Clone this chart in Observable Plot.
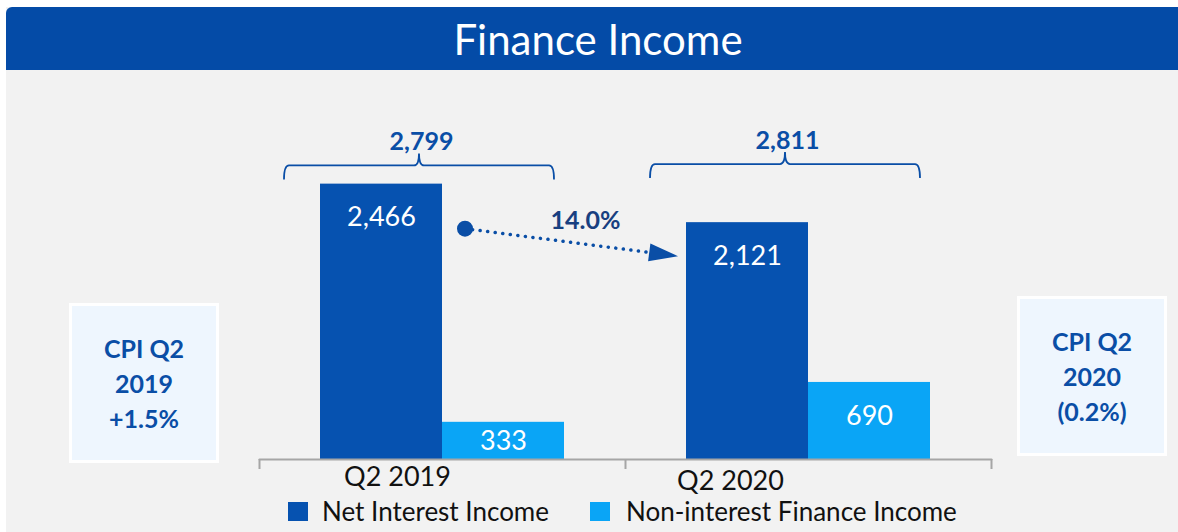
<!DOCTYPE html>
<html>
<head>
<meta charset="utf-8">
<script src="https://cdn.jsdelivr.net/npm/d3@7"></script>
<script src="https://cdn.jsdelivr.net/npm/@observablehq/plot@0.6"></script>
<style>
  html, body { margin: 0; padding: 0; background: #ffffff; width: 1178px; height: 532px; overflow: hidden; font-family: Lato, "Open Sans", sans-serif; }
  #panel { position: absolute; left: 6px; top: 7px; width: 1172px; height: 525px; background: #f2f2f2; }
  #title { position: absolute; left: 6px; top: 7px; width: 1160px; padding-left: 12px; height: 63px; background: #044ba7; border-top-left-radius: 6px; color: #ffffff; font-size: 42px; line-height: 64px; text-align: center; }
  #chart { position: absolute; left: 0; top: 70px; }
  .cpi { position: absolute; width: 144px; height: 154px; background: #eef6fe; border: 3px solid #ffffff; color: #0a4ea6; font-weight: 700; font-size: 25px; line-height: 35px; display: flex; align-items: center; justify-content: center; text-align: center; }
  .sw { position: absolute; width: 20px; height: 19px; }
  .lt { position: absolute; font-size: 26px; color: #111111; line-height: 30px; white-space: nowrap; }
</style>
</head>
<body>
<div id="panel"></div>
<div id="title"></div>
<div id="chart"></div>
<div id="cpi0" class="cpi" style="left:69px;top:303px;"></div>
<div id="cpi1" class="cpi" style="left:1017px;top:296px;"></div>
<div id="legend"></div>
<script>
// ---- data ----
const titleText = "Finance Income";
const periods = ["Q2 2019", "Q2 2020"];
const seriesNames = ["Net Interest Income", "Non-interest Finance Income"];
const netInterestIncome = [2466, 2121];
const nonInterestFinanceIncome = [333, 690];
const totals = [2799, 2811];
const cpiLabels = [["CPI Q2", "2019", "+1.5%"], ["CPI Q2", "2020", "(0.2%)"]];
const seriesColors = ["#0652b0", "#0aa5f6"];

// ---- derived tables ----
const fmt = d3.format(",");
const key = (p, s) => p + " | " + s;
const gaps = ["gap-start", "gap-middle", "gap-end"];
const xDomain = [
  gaps[0], key(periods[0], seriesNames[0]), key(periods[0], seriesNames[1]),
  gaps[1], key(periods[1], seriesNames[0]), key(periods[1], seriesNames[1]),
  gaps[2]
];
const rows = periods.flatMap((p, i) => [
  {period: p, series: seriesNames[0], value: netInterestIncome[i], key: key(p, seriesNames[0])},
  {period: p, series: seriesNames[1], value: nonInterestFinanceIncome[i], key: key(p, seriesNames[1])}
]);
const totalRows = periods.map((p, i) => ({period: p, total: totals[i], key: key(p, seriesNames[0])}));
const changeLabel = d3.format(".1%")((netInterestIncome[0] - netInterestIncome[1]) / netInterestIncome[0]);

document.getElementById("title").textContent = titleText;
cpiLabels.forEach((lines, i) => {
  document.getElementById("cpi" + i).innerHTML = "<div>" + lines.join("<br>") + "</div>";
});

const blue = "#0a4ea6";
const axisGray = "#a6a6a6";

const plot = Plot.plot({
  width: 1178,
  height: 425,
  marginLeft: 198,
  marginRight: 126,
  marginTop: 54,
  marginBottom: 36,
  x: {domain: xDomain, padding: 0, axis: null},
  y: {domain: [0, 3000], axis: null},
  color: {domain: seriesNames, range: seriesColors},
  style: {background: "transparent", fontFamily: "Lato, 'Open Sans', sans-serif", overflow: "visible"},
  marks: [
    Plot.barY(rows, {x: "key", y: "value", fill: "series"}),
    Plot.line([gaps[0], gaps[2]], {x: d => d, y: () => 0, stroke: axisGray, strokeWidth: 2}),
    Plot.ruleX(gaps, {x: d => d, y1: () => 0, y2: () => 0, insetBottom: -10, stroke: axisGray, strokeWidth: 2}),
    Plot.text(rows, {x: "key", y: d => Math.max(d.value - 300, d.value / 2), text: d => fmt(d.value), fill: "white", fontSize: 27}),
    Plot.text([totalRows[0]], {x: "key", y: () => 0, text: "period", dx: 16, dy: 18, fill: "#111111", fontSize: 27}),
    Plot.text([totalRows[1]], {x: "key", y: () => 0, text: "period", dx: -17, dy: 22, fill: "#111111", fontSize: 27}),
    Plot.text(totalRows, {x: "key", y: "total", text: d => fmt(d.total), dx: 40, dy: -5, fill: blue, fontWeight: "bold", fontSize: 25})
  ]
});
document.getElementById("chart").appendChild(plot);

// ---- annotations drawn from the plot's own scales ----
const xs = plot.scale("x"), ys = plot.scale("y");
const x = d3.scaleBand(xs.domain, xs.range).paddingInner(xs.paddingInner || 0).paddingOuter(xs.paddingOuter || 0).align(xs.align == null ? 0.5 : xs.align);
const y = d3.scaleLinear(ys.domain, ys.range);
const bw = x.bandwidth();
const svg = d3.select(plot);
const g = svg.append("g");

// brackets over each period
periods.forEach((p, i) => {
  const left = x(key(p, seriesNames[0])) - 36;
  const right = x(key(p, seriesNames[1])) + bw - 10;
  const ly = y(totals[i]) + 19;
  const cx = (left + right) / 2;
  const path = d3.path();
  path.moveTo(left, ly + 14);
  path.quadraticCurveTo(left, ly, left + 5, ly);
  path.lineTo(cx - 5, ly);
  path.quadraticCurveTo(cx, ly, cx, ly - 12);
  path.quadraticCurveTo(cx, ly, cx + 5, ly);
  path.lineTo(right - 5, ly);
  path.quadraticCurveTo(right, ly, right, ly + 14);
  g.append("path").attr("d", path.toString()).attr("fill", "none").attr("stroke", blue).attr("stroke-width", 1.8);
});

// change arrow between net interest income bars
const sx = x(key(periods[0], seriesNames[0])) + bw + 23;
const sy = y(netInterestIncome[0]) + 45;
const tx = x(key(periods[1], seriesNames[0])) - 8;
const ty = y(netInterestIncome[1]) + 34;
const len = Math.hypot(tx - sx, ty - sy);
const ux = (tx - sx) / len, uy = (ty - sy) / len;
const bx = tx - 29 * ux, by = ty - 29 * uy;
const nx = -uy, ny = ux;
g.append("line").attr("x1", sx).attr("y1", sy).attr("x2", bx).attr("y2", by)
  .attr("stroke", blue).attr("stroke-width", 3.5).attr("stroke-linecap", "round").attr("stroke-dasharray", "0.1 7.5");
g.append("circle").attr("cx", sx).attr("cy", sy).attr("r", 8).attr("fill", blue);
g.append("path").attr("d", `M${tx},${ty}L${bx + 9 * nx},${by + 9 * ny}L${bx - 9 * nx},${by - 9 * ny}Z`).attr("fill", blue);
g.append("text").attr("x", (sx + tx) / 2 + 14).attr("y", (sy + ty) / 2 - 20)
  .attr("text-anchor", "middle").attr("dominant-baseline", "middle")
  .attr("fill", "#183f80").attr("font-weight", "bold").attr("font-size", 25)
  .attr("font-family", "Lato, 'Open Sans', sans-serif").text(changeLabel);

// ---- legend ----
const legend = document.getElementById("legend");
const legendPos = [{sw: 288, tx: 322}, {sw: 590, tx: 626}];
seriesNames.forEach((s, i) => {
  const sw = document.createElement("div");
  sw.className = "sw";
  sw.style.left = legendPos[i].sw + "px";
  sw.style.top = "502px";
  sw.style.background = seriesColors[i];
  legend.appendChild(sw);
  const t = document.createElement("div");
  t.className = "lt";
  t.style.left = legendPos[i].tx + "px";
  t.style.top = "496px";
  t.textContent = s;
  legend.appendChild(t);
});
</script>
</body>
</html>
